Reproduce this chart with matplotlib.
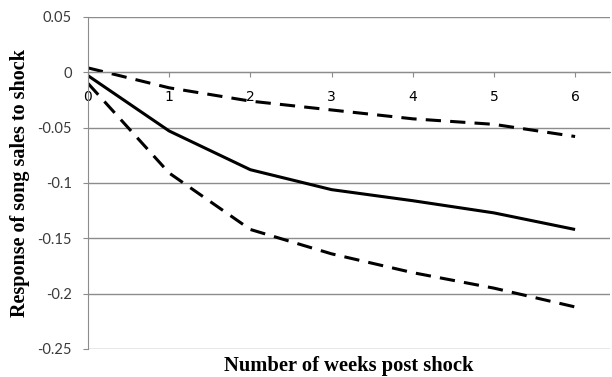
import matplotlib
matplotlib.use("Agg")
import matplotlib.pyplot as plt

# weeks after shock and estimated responses
weeks = [0, 1, 2, 3, 4, 5, 6]
response = [-0.003, -0.053, -0.088, -0.106, -0.116, -0.127, -0.142]
upper_band = [0.004, -0.014, -0.026, -0.034, -0.042, -0.047, -0.058]
lower_band = [-0.010, -0.091, -0.142, -0.164, -0.181, -0.195, -0.212]

y_ticks = [0.05, 0, -0.05, -0.1, -0.15, -0.2, -0.25]
y_tick_labels = ['0.05', '0', '-0.05', '-0.1', '-0.15', '-0.2', '-0.25']

fig = plt.figure(figsize=(6.12, 3.77), dpi=100)
ax = fig.add_axes([88/612, 1 - 349/377, (610 - 88)/612, (349 - 17)/377])

grid_col = '#8c8c8c'
tick_col = '#3a3a3a'

ax.plot(weeks, response, color='black', lw=2.2, solid_capstyle='butt')
ax.plot(weeks, upper_band, color='black', lw=2.2, dashes=(5, 3))
ax.plot(weeks, lower_band, color='black', lw=2.2, dashes=(5, 3))

ax.set_xlim(0, 6.43)
ax.set_ylim(-0.25, 0.05)
ax.set_yticks(y_ticks)
ax.set_yticklabels(y_tick_labels, fontfamily='Lato', fontsize=10.5, color=tick_col)
ax.set_xticks(weeks)
ax.set_xticklabels([str(w) for w in weeks], fontfamily='Lato', fontsize=10.5, color=tick_col)

ax.yaxis.grid(True, color=grid_col, lw=1)
ax.set_axisbelow(True)

for s in ['top', 'right']:
    ax.spines[s].set_visible(False)
ax.spines['left'].set_color(grid_col)
ax.spines['bottom'].set_position(('data', 0))
ax.spines['bottom'].set_color(grid_col)

ax.tick_params(axis='y', direction='out', length=3.5, color=grid_col, pad=8)
ax.tick_params(axis='x', direction='out', length=3.5, color=grid_col, pad=9)

ax.set_xlabel('Number of weeks post shock', fontfamily='Liberation Serif',
              fontweight='bold', fontsize=14.8)
ax.xaxis.set_label_coords(0.5, -0.02)
ax.set_ylabel('Response of song sales to shock', fontfamily='Liberation Serif',
              fontweight='bold', fontsize=14.5)
ax.yaxis.set_label_coords(-0.112, 0.5)

fig.savefig('out.png', dpi=100)
